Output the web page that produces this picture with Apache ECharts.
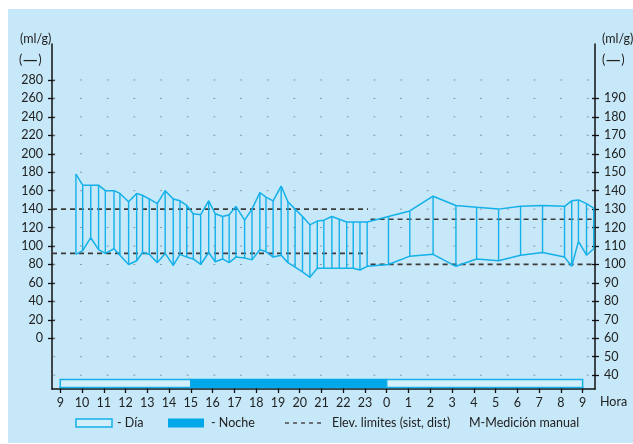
<!DOCTYPE html>
<html>
<head>
<meta charset="utf-8">
<script src="https://cdn.jsdelivr.net/npm/echarts@6/dist/echarts.min.js"></script>
<style>
  html, body { margin: 0; padding: 0; background: #ffffff; }
  #chart { width: 633px; height: 444px; }
</style>
</head>
<body>
<div id="chart"></div>
<script>
// Measurement times (hours from midnight of day 1; values past 24 are the next morning)
const hours = [9.72, 10.03, 10.40, 10.76, 11.07, 11.47, 11.74, 12.14, 12.51, 12.78,
  13.09, 13.46, 13.82, 14.19, 14.50, 14.81, 15.11, 15.45, 15.82, 16.12,
  16.46, 16.76, 17.07, 17.47, 17.81, 18.17, 18.45, 18.78, 19.15, 19.46,
  19.79, 20.13, 20.47, 20.81, 21.11, 21.48, 21.82, 22.16, 22.46, 22.77,
  23.10, 24.08, 25.06, 26.13, 27.18, 28.13, 29.14, 30.15, 31.16, 32.17,
  32.50, 32.81, 33.18, 33.51];
// Systolic readings
const systolic = [178, 166, 166, 166, 160, 160, 157, 148, 157, 155,
  151, 146, 160, 151, 149, 144, 135, 134, 149, 135,
  132, 134, 143, 128, 140, 158, 153, 149, 165, 148,
  140, 132, 123, 127, 128, 132, 129, 126, 126, 126,
  126, 132, 138, 154, 144, 142, 140, 143, 144, 143,
  149, 150, 146, 141];
// Diastolic readings
const diastolic = [91, 95, 109, 96, 92, 97, 90, 80, 84, 93,
  91, 82, 92, 79, 91, 88, 86, 80, 93, 83,
  86, 82, 88, 87, 85, 96, 94, 88, 90, 82,
  77, 72, 66, 76, 76, 76, 76, 76, 76, 74,
  78, 80, 89, 91, 78, 86, 84, 90, 93, 88,
  78, 105, 90, 97];

// Limit lines: [start hour, end hour, systolic limit, diastolic limit]
const dayLimits = [8.62, 23.14, 140, 92];
const nightLimits = [23.26, 33.57, 129, 80];

// Day / night periods: [start hour, end hour, kind]
const periods = [[9, 15, 'day'], [15, 24, 'night'], [24, 33, 'day']];

// Axis ticks
const hourTicks = [9,10,11,12,13,14,15,16,17,18,19,20,21,22,23,24,25,26,27,28,29,30,31,32,33];
const leftTicks = [0,20,40,60,80,100,120,140,160,180,200,220,240,260,280];
const rightTicks = [40,50,60,70,80,90,100,110,120,130,140,150,160,170,180,190];
const gridRows = [-40,-20,0,20,40,60,80,100,120,140,160,180,200,220,240,260,280];

const X_MIN = 8.62, X_MAX = 33.57;
const L_MIN = -55, L_MAX = 319;
const R_MIN = (L_MIN + 120) / 2, R_MAX = (L_MAX + 120) / 2;

const LINE = '#14b0ea';
const NIGHT = '#00a8ea';
const BG = '#c7e8f8';
const INK = '#222222';
const FONT = 'Lato';

const readings = hours.map((h, i) => [h, systolic[i], diastolic[i]]);

const chart = echarts.init(document.getElementById('chart'), null, { renderer: 'canvas' });

const tickStyle = { color: '#111', width: 1.3 };
const baseLabel = { color: INK, fontFamily: FONT, fontSize: 12.5 };

// "(—)" unit marker with a long dash
function unitDash(left) {
  return {
    type: 'text', left: left, top: 50,
    style: {
      text: '{p|(}{d|—}{p|)}',
      rich: {
        p: { fill: INK, fontFamily: FONT, fontSize: 12.5 },
        d: { fill: INK, fontFamily: FONT, fontSize: 20 }
      }
    }
  };
}

chart.setOption({
  animation: false,
  backgroundColor: '#ffffff',
  textStyle: { fontFamily: FONT },
  graphic: [
    { type: 'rect', z: -10, silent: true, shape: { x: 8, y: 9, width: 625, height: 434 }, style: { fill: BG } },
    { type: 'text', left: 20, top: 32, style: { text: '(ml/g)', fill: INK, font: '12.5px ' + FONT } },
    unitDash(19),
    { type: 'text', left: 602, top: 32, style: { text: '(ml/g)', fill: INK, font: '12.5px ' + FONT } },
    unitDash(602),
    { type: 'text', left: 600, top: 395, style: { text: 'Hora', fill: INK, font: '12.5px ' + FONT } },
    // legend
    { type: 'rect', shape: { x: 76, y: 419, width: 36, height: 8 }, style: { fill: '#d3effb', stroke: LINE, lineWidth: 1.5 } },
    { type: 'text', left: 117, top: 416, style: { text: '- Día', fill: INK, font: '12.5px ' + FONT } },
    { type: 'rect', shape: { x: 168, y: 418.5, width: 36, height: 9 }, style: { fill: NIGHT } },
    { type: 'text', left: 211, top: 416, style: { text: '- Noche', fill: INK, font: '12.5px ' + FONT } },
    { type: 'line', shape: { x1: 285, y1: 423, x2: 324, y2: 423 }, style: { stroke: '#333', lineWidth: 1.3, lineDash: [4, 4] } },
    { type: 'text', left: 332, top: 416, style: { text: 'Elev. limites (sist, dist)', fill: INK, font: '12.5px ' + FONT } },
    { type: 'text', left: 469, top: 416, style: { text: 'M-Medición manual', fill: INK, font: '12.5px ' + FONT } }
  ],
  grid: { left: 52, right: 38, top: 44, bottom: 55, containLabel: false },
  xAxis: [
    {
      type: 'value', min: X_MIN, max: X_MAX, position: 'bottom',
      axisLine: { show: true, onZero: false, lineStyle: { color: '#111', width: 1.5 } },
      axisTick: { show: true, length: 4, customValues: hourTicks, lineStyle: tickStyle },
      axisLabel: Object.assign({ margin: 7, customValues: hourTicks, formatter: v => String(Math.round(v) % 24) }, baseLabel),
      splitLine: { show: false }
    },
    {
      type: 'value', min: X_MIN, max: X_MAX, position: 'bottom',
      axisLine: { show: false, onZero: false },
      axisTick: { show: true, inside: true, length: 3, customValues: hourTicks, lineStyle: tickStyle },
      axisLabel: { show: false },
      splitLine: { show: false }
    }
  ],
  yAxis: [
    {
      type: 'value', min: L_MIN, max: L_MAX, position: 'left',
      axisLine: { show: true, onZero: false, lineStyle: { color: '#111', width: 1.5 } },
      axisTick: { show: true, length: 4, customValues: leftTicks, lineStyle: tickStyle },
      axisLabel: Object.assign({ margin: 9, customValues: leftTicks }, baseLabel),
      splitLine: { show: false }
    },
    {
      type: 'value', min: R_MIN, max: R_MAX, position: 'right',
      axisLine: { show: true, onZero: false, lineStyle: { color: '#111', width: 1.5 } },
      axisTick: { show: true, length: 4, customValues: rightTicks, lineStyle: tickStyle },
      axisLabel: Object.assign({ margin: 9, customValues: rightTicks }, baseLabel),
      splitLine: { show: false }
    },
    {
      type: 'value', min: L_MIN, max: L_MAX, position: 'left',
      axisLine: { show: false, onZero: false },
      axisTick: { show: true, inside: true, length: 3, customValues: leftTicks, lineStyle: tickStyle },
      axisLabel: { show: false }, splitLine: { show: false }
    },
    {
      type: 'value', min: R_MIN, max: R_MAX, position: 'right',
      axisLine: { show: false, onZero: false },
      axisTick: { show: true, inside: true, length: 3, customValues: rightTicks, lineStyle: tickStyle },
      axisLabel: { show: false }, splitLine: { show: false }
    }
  ],
  series: [
    // dotted horizontal guide rows
    {
      type: 'custom', silent: true, z: 1,
      data: gridRows.map(v => [X_MIN, v]),
      encode: { x: 0, y: 1 },
      renderItem: (params, api) => {
        const cs = params.coordSys;
        const y = api.coord([X_MIN, api.value(1)])[1];
        return {
          type: 'line',
          shape: { x1: cs.x, y1: y, x2: cs.x + cs.width, y2: y },
          style: { stroke: '#8c9aa2', lineWidth: 1, lineDash: [2, 24.67], lineDashOffset: 25.33 }
        };
      }
    },
    // limit lines
    ...[dayLimits, nightLimits].flatMap(lim => [2, 3].map(k => ({
      type: 'line', silent: true, z: 3, symbol: 'none',
      data: [[lim[0], lim[k]], [lim[1], lim[k]]],
      lineStyle: { color: '#3a3a3a', width: 1.7, type: [5, 4] }
    }))),
    // vertical connectors between systolic and diastolic readings
    {
      type: 'custom', silent: true, z: 4,
      data: readings,
      encode: { x: 0, y: [1, 2] },
      renderItem: (params, api) => {
        const top = api.coord([api.value(0), api.value(1)]);
        const bot = api.coord([api.value(0), api.value(2)]);
        return {
          type: 'line',
          shape: { x1: top[0], y1: top[1], x2: bot[0], y2: bot[1] },
          style: { stroke: LINE, lineWidth: 1.4 }
        };
      }
    },
    {
      type: 'line', silent: true, z: 5, symbol: 'none',
      data: readings.map(r => [r[0], r[1]]),
      lineStyle: { color: LINE, width: 1.5 }
    },
    {
      type: 'line', silent: true, z: 5, symbol: 'none',
      data: readings.map(r => [r[0], r[2]]),
      lineStyle: { color: LINE, width: 1.5 }
    },
    // day / night band along the time axis
    {
      type: 'custom', silent: true, z: 6,
      data: periods.map(p => [p[0], p[1], p[2] === 'night' ? 1 : 0]),
      encode: { x: [0, 1] },
      renderItem: (params, api) => {
        const a = api.coord([api.value(0), L_MIN]);
        const b = api.coord([api.value(1), L_MIN]);
        const night = api.value(2) === 1;
        return {
          type: 'rect',
          shape: { x: a[0], y: a[1] - 9.5, width: b[0] - a[0], height: 8 },
          style: night ? { fill: NIGHT, stroke: NIGHT, lineWidth: 1.5 }
                       : { fill: '#d3effb', stroke: LINE, lineWidth: 1.5 }
        };
      }
    }
  ]
});
</script>
</body>
</html>
